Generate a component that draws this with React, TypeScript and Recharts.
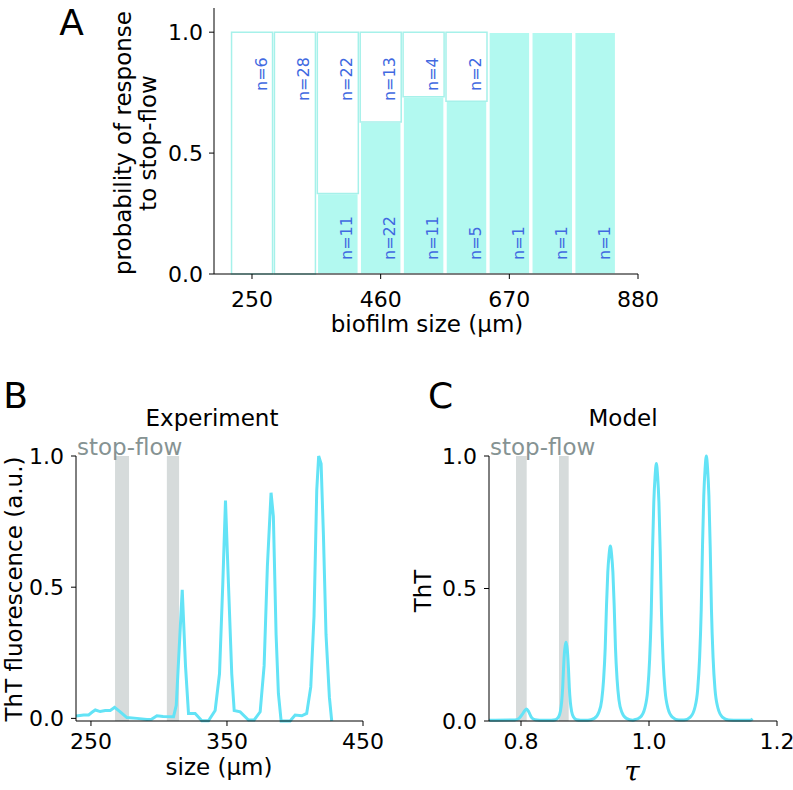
import {
  ComposedChart,
  Bar,
  Line,
  XAxis,
  YAxis,
  LabelList,
  ReferenceArea,
} from 'recharts'

const CYAN_FILL = '#b2f9f0'
const CYAN_EDGE = '#a6f1ea'
const LINE = '#63e3f6'
const BAND = '#d6dbdb'
const GREY_TXT = '#869393'
const BLUE = '#4169e1'
const INK = '#000'

// ── Panel A — response probability per size bin ───────────────────────────
const binCenters = [250, 320, 390, 460, 530, 600, 670, 740, 810]
const respondN = [0, 0, 11, 22, 11, 5, 1, 1, 1]
const silentN = [6, 28, 22, 13, 4, 2, 0, 0, 0]
const sizeTicks = [250, 460, 670, 880]
const probTicks = [0, 0.5, 1]

// ── Panel B — experiment trace ────────────────────────────────────────────
const expSize = [
  239, 244.6, 248.3, 251, 253.2, 256.8, 260.5, 264.2, 267.4, 271.5, 276.4, 283.8,
  291.1, 294.5, 298.5, 303, 310.7, 312.7, 317.1, 319.5, 321.7, 326.6, 331.5, 336.4,
  341.3, 344.5, 346.9, 348.9, 351.1, 353.5, 355.3, 359.7, 365.8, 370, 374.4, 377.3,
  379.7, 382.4, 384.1, 386.1, 387.8, 389.8, 396.4, 400.1, 405, 408.6, 411.6, 414,
  416, 417.4, 419.2, 420.9, 422.8, 425.3, 427,
]
const expTht = [
  0.009, 0.013, 0.013, 0.024, 0.032, 0.026, 0.03, 0.03, 0.042, 0.025, 0.003, 0.0,
  -0.004, -0.003, 0.01, 0.007, 0.006, 0.05, 0.49, 0.2, 0.019, 0.019, -0.009, -0.009,
  0.03, 0.17, 0.51, 0.83, 0.51, 0.17, 0.03, 0.025, -0.006, -0.006, 0.025, 0.2,
  0.58, 0.86, 0.77, 0.32, 0.095, -0.01, -0.01, 0.013, 0.01, 0.019, 0.12, 0.39,
  0.87, 1.0, 0.97, 0.7, 0.32, 0.08, -0.01,
]
const expBands = [
  [267.7, 278],
  [305.8, 314.8],
]
const expXTicks = [250, 350, 450]

// ── Panel C — model trace ─────────────────────────────────────────────────
const modelTau = [
  0.75, 0.79, 0.797, 0.802, 0.806, 0.8086, 0.812, 0.816, 0.822, 0.835,
  0.8475, 0.854, 0.8586, 0.8615, 0.8635, 0.8651, 0.8664, 0.8677, 0.869, 0.8703,
  0.8716, 0.8729, 0.8742, 0.8755, 0.8771, 0.8791, 0.882, 0.8866, 0.8931,
  0.9046, 0.9146, 0.9216, 0.9261, 0.9291, 0.9316, 0.9336, 0.9356, 0.9376, 0.9396,
  0.9416, 0.9436, 0.9456, 0.9476, 0.9501, 0.9531, 0.9576, 0.9646, 0.9746,
  0.9765, 0.9865, 0.9935, 0.998, 1.001, 1.0035, 1.0055, 1.0075, 1.0095, 1.0115,
  1.0135, 1.0155, 1.0175, 1.0195, 1.022, 1.025, 1.0295, 1.0365, 1.0465,
  1.0546, 1.0646, 1.0716, 1.0761, 1.0791, 1.0816, 1.0836, 1.0856, 1.0876, 1.0896,
  1.0916, 1.0936, 1.0956, 1.0976, 1.1001, 1.1031, 1.1076, 1.1146, 1.1246,
  1.14, 1.158, 1.162,
]
const modelTht = [
  0.003, 0.004, 0.01, 0.025, 0.04, 0.045, 0.035, 0.015, 0.005, 0.003,
  0.003, 0.005, 0.015, 0.036, 0.071, 0.125, 0.196, 0.252, 0.282, 0.297,
  0.282, 0.252, 0.196, 0.125, 0.071, 0.036, 0.015, 0.005, 0.003,
  0.003, 0.01, 0.033, 0.079, 0.158, 0.277, 0.436, 0.561, 0.627, 0.66,
  0.627, 0.561, 0.436, 0.277, 0.158, 0.079, 0.033, 0.01, 0.003,
  0.004, 0.015, 0.049, 0.117, 0.233, 0.408, 0.642, 0.826, 0.923, 0.972,
  0.923, 0.826, 0.642, 0.408, 0.233, 0.117, 0.049, 0.015, 0.004,
  0.004, 0.015, 0.05, 0.12, 0.24, 0.42, 0.66, 0.85, 0.95, 1.0,
  0.95, 0.85, 0.66, 0.42, 0.24, 0.12, 0.05, 0.015, 0.004,
  0.003, 0.003, 0.008,
]
const modelBands = [
  [0.7922, 0.8089],
  [0.8594, 0.8745],
]
const modelXTicks = [0.8, 1.0, 1.2]

const binRows = binCenters.map((size, i) => {
  const total = respondN[i] + silentN[i]
  const p = respondN[i] / total
  return { size, p, rest: 1 - p, resp: respondN[i], silent: silentN[i] }
})
const expRows = expSize.map((size, i) => ({ size, tht: expTht[i] }))
const modelRows = modelTau.map((tau, i) => ({ tau, tht: modelTht[i] }))

const tickStyle = { fill: INK, fontSize: 22 }
const fmt1 = (v: number) => v.toFixed(1)

const topLabel = (props: any) => {
  const { x, y, width, value } = props
  if (!value) return null
  const cx = Number(x) + Number(width) / 2 + 9
  const cy = Number(y) + 25
  return (
    <text x={cx} y={cy} transform={`rotate(-90 ${cx} ${cy})`} textAnchor="end"
      dominantBaseline="central" fill={BLUE} fontSize={16}>
      {`n=${value}`}
    </text>
  )
}

const bottomLabel = (props: any) => {
  const { x, y, width, height, value } = props
  if (!value) return null
  const cx = Number(x) + Number(width) / 2 + 9
  const cy = Number(y) + Number(height) - 14
  return (
    <text x={cx} y={cy} transform={`rotate(-90 ${cx} ${cy})`} textAnchor="start"
      dominantBaseline="central" fill={BLUE} fontSize={16}>
      {`n=${value}`}
    </text>
  )
}

function PanelA() {
  return (
    <ComposedChart width={700} height={340} data={binRows}
      margin={{ top: 8, right: 62, bottom: 36, left: 154 }}>
      <XAxis type="number" dataKey="size" domain={[188, 880]} ticks={sizeTicks}
        allowDataOverflow height={30} stroke={INK} tickSize={5} tickMargin={12} tick={tickStyle} />
      <YAxis type="number" domain={[0, 1.1]} ticks={probTicks} tickFormatter={fmt1}
        width={60} stroke={INK} tickSize={5} tickMargin={6} tick={tickStyle} />
      <Bar dataKey="p" stackId="a" barSize={41} fill={CYAN_FILL} stroke="#fff"
        strokeWidth={1.5} isAnimationActive={false}>
        <LabelList dataKey="resp" content={bottomLabel} />
      </Bar>
      <Bar dataKey="rest" stackId="a" barSize={41} fill="#fff" stroke={CYAN_EDGE}
        strokeWidth={1.5} isAnimationActive={false}>
        <LabelList dataKey="silent" content={topLabel} />
      </Bar>
    </ComposedChart>
  )
}

function PanelB() {
  return (
    <ComposedChart width={400} height={370} data={expRows}
      margin={{ top: 36, right: 37, bottom: 39, left: 16 }}>
      {expBands.map(([a, b], i) => (
        <ReferenceArea key={i} x1={a} x2={b} y1={-0.01} y2={1} fill={BAND}
          fillOpacity={1} stroke="none" ifOverflow="visible" />
      ))}
      <XAxis type="number" dataKey="size" domain={[239, 450]} ticks={expXTicks}
        allowDataOverflow height={30} stroke={INK} tickSize={5} tickMargin={7} tick={tickStyle} />
      <YAxis type="number" domain={[-0.01, 1]} ticks={probTicks} tickFormatter={fmt1}
        width={60} stroke={INK} tickSize={5} tickMargin={7} tick={tickStyle} />
      <Line dataKey="tht" type="linear" stroke={LINE} strokeWidth={3} dot={false}
        activeDot={false} isAnimationActive={false} />
    </ComposedChart>
  )
}

function PanelC() {
  return (
    <ComposedChart width={373} height={370} data={modelRows}
      margin={{ top: 36, right: 16, bottom: 39, left: 9 }}>
      {modelBands.map(([a, b], i) => (
        <ReferenceArea key={i} x1={a} x2={b} y1={0} y2={1} fill={BAND}
          fillOpacity={1} stroke="none" ifOverflow="visible" />
      ))}
      <XAxis type="number" dataKey="tau" domain={[0.75, 1.2]} ticks={modelXTicks}
        tickFormatter={fmt1} allowDataOverflow height={30} stroke={INK} tickSize={5}
        tickMargin={7} tick={tickStyle} />
      <YAxis type="number" domain={[0, 1]} ticks={probTicks} tickFormatter={fmt1}
        width={60} stroke={INK} tickSize={5} tickMargin={7} tick={tickStyle} />
      <Line dataKey="tht" type="monotone" stroke={LINE} strokeWidth={3} dot={false}
        activeDot={false} isAnimationActive={false} />
    </ComposedChart>
  )
}

export default function App() {
  return (
    <div style={{ position: 'absolute', left: 0, top: 0, width: 793, height: 790,
      background: '#fff', fontFamily: '"DejaVu Sans", sans-serif', overflow: 'hidden' }}>
      <div style={{ position: 'absolute', left: 0, top: 0 }}><PanelA /></div>
      <div style={{ position: 'absolute', left: 0, top: 420 }}><PanelB /></div>
      <div style={{ position: 'absolute', left: 420, top: 420 }}><PanelC /></div>
      <svg width={793} height={790} style={{ position: 'absolute', left: 0, top: 0, pointerEvents: 'none' }}>
        <g fill={INK} fontSize={36} textAnchor="middle">
          <text x={71.5} y={35}>A</text>
          <text x={15.5} y={407.5}>B</text>
          <text x={440.5} y={407.5}>C</text>
        </g>
        <g fill={INK} fontSize={23} textAnchor="middle" dominantBaseline="central">
          <text x={123} y={143} transform="rotate(-90 123 143)">probability of response</text>
          <text x={148} y={143} transform="rotate(-90 148 143)">to stop-flow</text>
          <text x={427} y={324}>biofilm size (µm)</text>
          <text x={212} y={418}>Experiment</text>
          <text x={623} y={418}>Model</text>
          <text x={14} y={589} transform="rotate(-90 14 589)">ThT fluorescence (a.u.)</text>
          <text x={423} y={591} transform="rotate(-90 423 591)">ThT</text>
          <text x={219} y={767}>size (µm)</text>
          <text x={632} y={771} fontSize={28} fontStyle="italic"
            fontFamily='"DejaVu Serif", serif'>τ</text>
        </g>
        <g fill={GREY_TXT} fontSize={23}>
          <text x={77} y={455}>stop-flow</text>
          <text x={490} y={455}>stop-flow</text>
        </g>
      </svg>
    </div>
  )
}
